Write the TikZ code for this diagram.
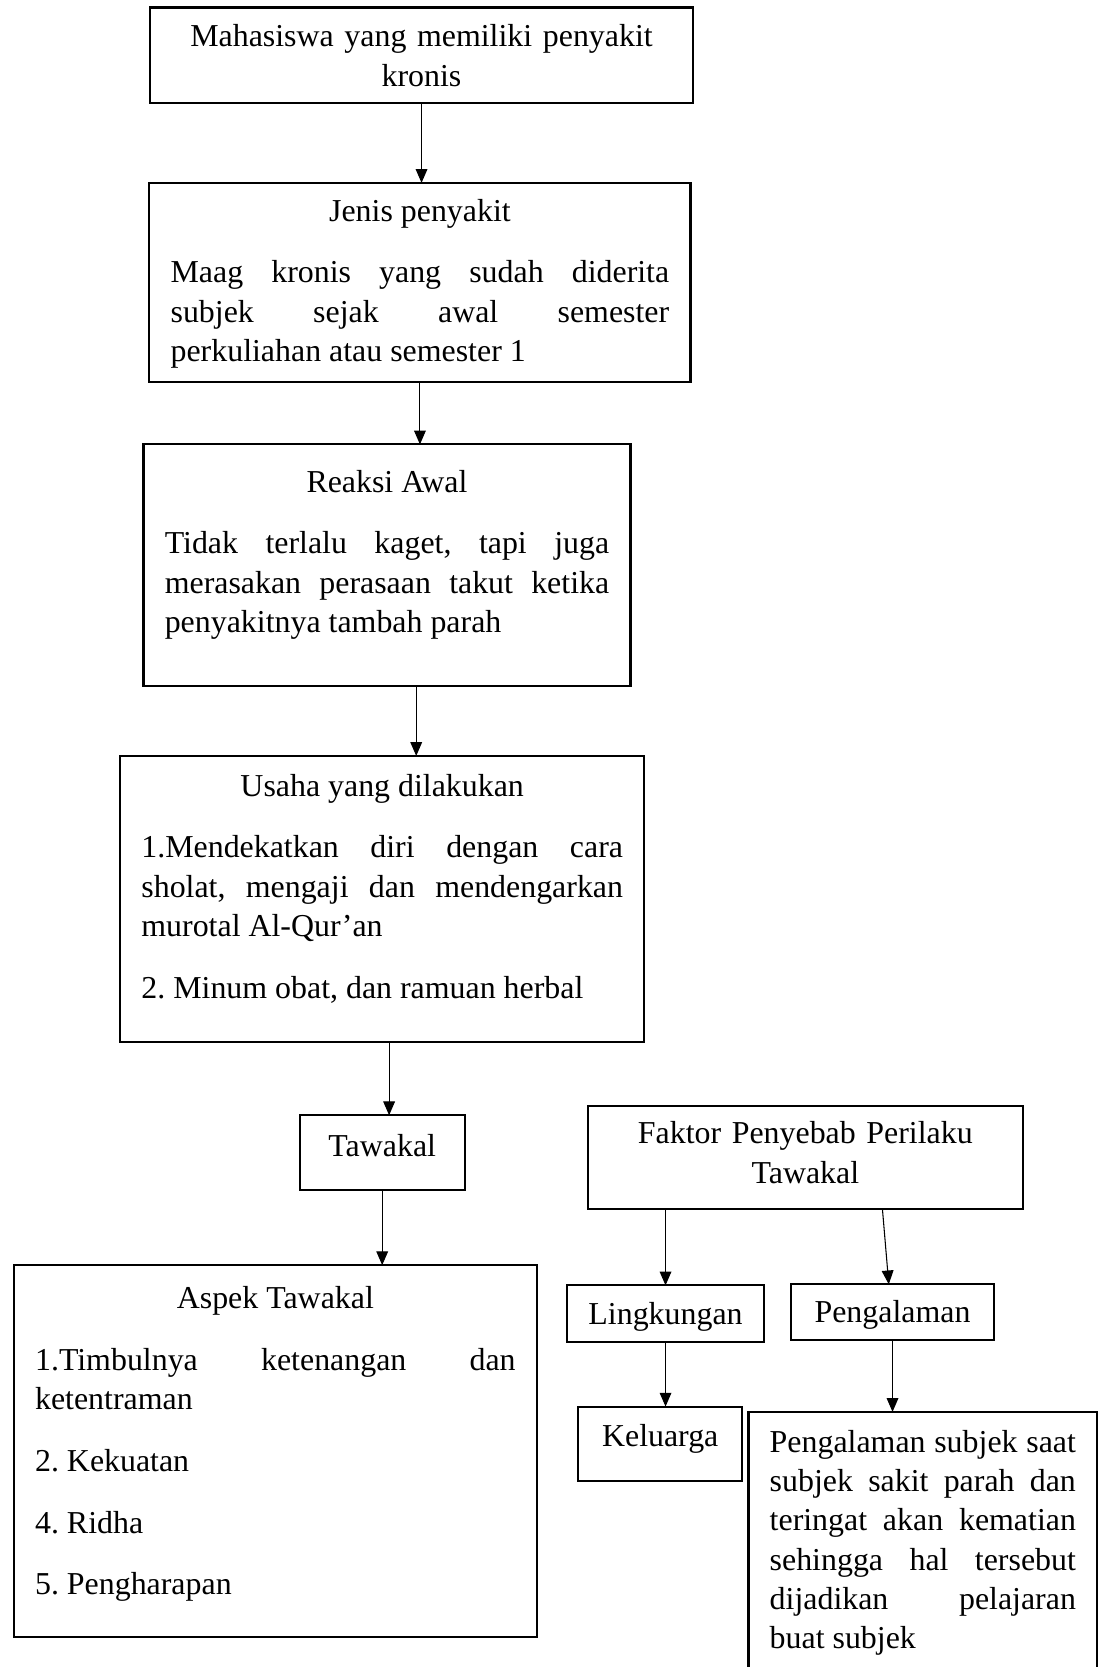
\documentclass[tikz,border=0pt]{standalone}
\usepackage{fontspec}
\setmainfont{Liberation Serif}
\usetikzlibrary{positioning,calc,arrows.meta}

\newcommand{\jeda}{\par\vspace{8.4pt}}
\newcommand{\judul}[1]{{\centering #1\par}\vspace{8.4pt}}

\begin{document}
\frenchspacing
\begin{tikzpicture}[x=0.4pt,y=-0.4pt,
		kotak/.style={draw, line width=0.8pt, inner xsep=8pt, inner ysep=0pt, outer sep=0pt,
			font=\fontsize{12}{14.8}\selectfont\sloppy},
		panah/.style={-{Triangle[length=5.2pt,width=4.4pt]}, line width=0.4pt}]
			\useasboundingbox (0,0) rectangle (1039,1568);
			\clip (0,0) rectangle (1039,1568);
			\node (mhs) [kotak, anchor=north west, text width=188.4pt, align=center, text height=14.8pt, text depth=21.2pt] at (141,7) {Mahasiswa yang memiliki penyakit\\kronis};
			\node (jenis) [kotak, below=30pt of mhs, xshift=-0.6pt, text width=187.6pt, align=justify, text height=14.4pt, text depth=60.4pt] {\judul{Jenis penyakit}Maag kronis yang sudah diderita\linebreak subjek sejak awal semester\linebreak perkuliahan atau semester 1};
			\node (reaksi) [kotak, below=23.6pt of jenis, xshift=-12.4pt, text width=167.2pt, align=justify, text height=18pt, text depth=72.8pt] {\judul{Reaksi Awal}Tidak terlalu kaget, tapi juga\linebreak merasakan perasaan takut ketika\linebreak penyakitnya tambah parah};
			\node (usaha) [kotak, below=26.4pt of reaksi, xshift=-1.8pt, text width=181.2pt, align=justify, text height=15.2pt, text depth=92.4pt] {\judul{Usaha yang dilakukan}1.Mendekatkan diri dengan cara\linebreak sholat, mengaji dan mendengarkan\linebreak murotal Al-Qur’an\jeda 2. Minum obat, dan ramuan herbal};
			\node (tawakal) [kotak, below=27.6pt of usaha, minimum width=62pt, text height=15.6pt, text depth=12.4pt] {Tawakal};
			\node (aspek) [kotak, below=28.4pt of tawakal, xshift=-40.2pt, text width=180.8pt, align=justify, text height=16.4pt, text depth=123.6pt] {\judul{Aspek Tawakal}1.Timbulnya ketenangan dan\linebreak ketentraman\jeda 2. Kekuatan\jeda 4. Ridha\jeda 5. Pengharapan};
			\node (faktor) [kotak, right=46.4pt of tawakal, yshift=-1.8pt, text width=147.6pt, align=center, text height=14.4pt, text depth=24.4pt] {Faktor Penyebab Perilaku\\Tawakal};
			\node (lingkungan) [kotak, below=28.8pt of faktor, xshift=-52.6pt, minimum width=74.4pt, text height=14.8pt, text depth=6.4pt] {Lingkungan};
			\node (pengalaman) [kotak, right=10pt of lingkungan, yshift=0.6pt, minimum width=76.4pt, text height=14.4pt, text depth=6.4pt] {Pengalaman};
			\node (keluarga) [kotak, below=24.4pt of lingkungan, xshift=-2pt, minimum width=61.6pt, text height=15.2pt, text depth=12.8pt] {Keluarga};
			\node (pengsubjek) [kotak, below=27.2pt of pengalaman, xshift=11.4pt, text width=115.2pt, align=justify, text height=15.2pt, text depth=93.6pt] {Pengalaman subjek saat\linebreak subjek sakit parah dan\linebreak teringat akan kematian\linebreak sehingga hal tersebut\linebreak dijadikan pelajaran\linebreak buat subjek};
			\path[panah] (mhs.south) edge (mhs.south |- jenis.north)
			(jenis.south) edge (jenis.south |- reaksi.north)
			($(reaksi.south)+(11pt,0)$) edge ($(reaksi.south |- usaha.north)+(11pt,0)$)
			($(usaha.south)+(2.6pt,0)$) edge ($(tawakal.north)+(2.6pt,0)$)
			(tawakal.south) edge (tawakal.south |- aspek.north)
			(lingkungan.north |- faktor.south) edge (lingkungan.north)
			($(pengalaman.north |- faktor.south)+(-3.8pt,0)$) edge ($(pengalaman.north)+(-1.4pt,0)$)
			(lingkungan.south) edge (lingkungan.south |- keluarga.north)
			(pengalaman.south) edge (pengalaman.south |- pengsubjek.north);
		\end{tikzpicture}
\end{document}
